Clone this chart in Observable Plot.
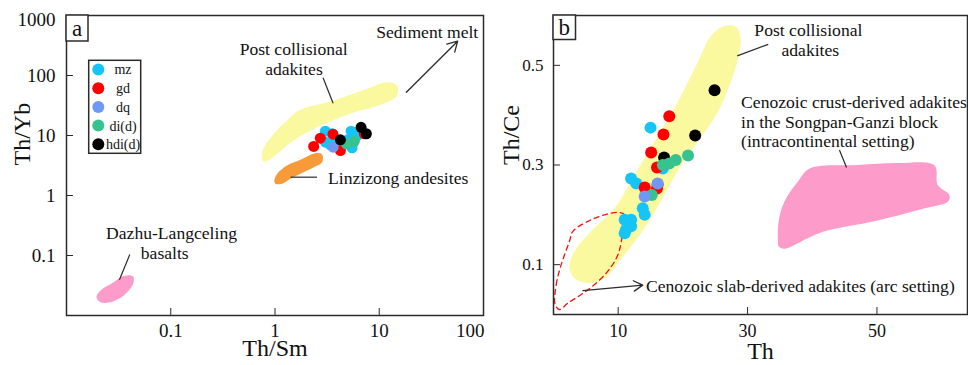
<!DOCTYPE html>
<html>
<head>
<meta charset="utf-8">
<script src="https://cdn.jsdelivr.net/npm/d3@7"></script>
<script src="https://cdn.jsdelivr.net/npm/@observablehq/plot@0.6"></script>
<style>
  html, body { margin: 0; padding: 0; background: #fff; }
  #fig { position: relative; width: 968px; height: 365px; overflow: hidden; font-family: "Liberation Serif", "Times New Roman", serif; }
  #fig > svg, #fig > div { position: absolute; top: 0; }
</style>
</head>
<body>
<div id="fig"></div>
<script>
// Sample groups and their colours
const groups = ["mz", "gd", "dq", "di(d)", "hdi(d)"];
const groupColors = ["#16c4f5", "#ff0000", "#6e98f4", "#36c38f", "#000000"];

// Panel a: Th/Sm (x) vs Th/Yb (y)
const aMz = [[3.04, 11.8], [3.04, 7.73], [3.53, 10.7], [3.4, 7.0], [5.37, 11.8], [5.49, 6.24], [6.12, 10.0], [5.0, 8.5], [3.8, 8.2]];
const aGd = [[2.35, 6.56], [2.72, 9.02], [3.6, 10.5], [4.24, 5.62], [7.19, 10.7]];
const aDq = [[3.61, 6.38]];
const aDi = [[4.84, 7.27], [5.77, 8.0]];
const aHdi = [[4.24, 8.47], [6.69, 13.7], [7.52, 10.7]];

// Panel b: Th (x) vs Th/Ce (y)
const bMz = [[15.0, 0.375], [12.0, 0.273], [12.8, 0.263], [13.8, 0.213], [14.1, 0.2], [11.0, 0.19], [12.0, 0.19], [12.0, 0.177], [11.2, 0.17], [11.0, 0.163], [16.9, 0.293]];
const bGd = [[17.9, 0.398], [17.0, 0.361], [15.1, 0.325], [16.0, 0.295], [14.1, 0.255], [16.1, 0.261], [16.0, 0.253]];
const bDq = [[16.1, 0.263], [14.1, 0.237]];
const bDi = [[20.8, 0.319], [18.9, 0.31], [17.9, 0.303], [16.9, 0.3], [15.2, 0.24]];
const bHdi = [[24.9, 0.45], [21.9, 0.359], [17.1, 0.315]];

// Reference fields, panel a
const postCollisionalA = [[0.774, 3.73], [0.751, 5.27], [0.973, 10.7], [1.306, 17.8], [1.687, 26.1], [3.66, 38.3], [7.64, 60], [11.9, 77.3], [14.8, 68.1], [14.8, 46.4], [11.0, 33.7], [5.28, 23], [2.53, 13.7], [1.51, 8.25], [1.05, 4.96], [0.84, 3.73]];
const linzizongA = [[0.986, 1.78], [1.05, 2.3], [1.306, 3.16], [1.75, 3.94], [2.44, 5.07], [2.83, 4.82], [2.83, 3.59], [2.35, 2.96], [1.75, 2.3], [1.41, 1.9], [1.17, 1.57], [1.01, 1.57]];
const dazhuA = [[0.0194, 0.0202], [0.0212, 0.0261], [0.0284, 0.0359], [0.0354, 0.0459], [0.0436, 0.0447], [0.0436, 0.0337], [0.0354, 0.0216], [0.0264, 0.0167], [0.0212, 0.0167]];

// Reference fields, panel b
const postCollisionalB = [[2.47, 0.093], [3.25, 0.127], [5.83, 0.167], [9.43, 0.213], [12.53, 0.28], [15.62, 0.347], [19.24, 0.427], [22.33, 0.507], [24.39, 0.56], [26.44, 0.579], [28.25, 0.577], [28.92, 0.553], [28.51, 0.513], [27.22, 0.46], [25.42, 0.407], [22.33, 0.347], [19.75, 0.3], [17.16, 0.24], [14.07, 0.173], [10.98, 0.12], [7.89, 0.073], [5.83, 0.063], [3.51, 0.07]];
const crustDerivedB = [[34.7, 0.147], [34.8, 0.187], [35.7, 0.227], [37.8, 0.267], [39.6, 0.293], [47.07, 0.3], [53.25, 0.304], [58.9, 0.299], [59.4, 0.26], [61.2, 0.24], [61.0, 0.227], [57.4, 0.213], [49.6, 0.187], [41.9, 0.167], [39.3, 0.153], [35.7, 0.132], [34.8, 0.137]];
const slabDerivedB = [[0.26, 0.02], [0.42, 0.06], [1.19, 0.1], [2.47, 0.147], [3.0, 0.167], [5.32, 0.187], [7.89, 0.2], [9.96, 0.205], [10.98, 0.2], [10.73, 0.167], [9.96, 0.12], [8.41, 0.087], [6.34, 0.06], [4.28, 0.04], [2.23, 0.023], [0.93, 0.01]];

// Axis ticks
const xTicksA = [0.1, 1, 10, 100];
const yTicksA = [0.1, 1, 10, 100, 1000];
const xTicksB = [10, 30, 50];
const yTicksB = [0.1, 0.3, 0.5];

const toRows = (list) => list.flatMap(([pts, g]) => pts.map(([x, y]) => ({x, y, group: g})));
const toPts = (pts) => pts.map(([x, y]) => ({x, y}));

const rowsA = toRows([[aMz, "mz"], [aGd, "gd"], [aDq, "dq"], [aDi, "di(d)"], [aHdi, "hdi(d)"]]);
const rowsB = toRows([[bMz, "mz"], [bHdi, "hdi(d)"], [bGd, "gd"], [bDi, "di(d)"], [bDq, "dq"]]);

const INK = "#2b2b2b";
const FONT = "Liberation Serif, Times New Roman, serif";
const colorScale = {domain: groups, range: groupColors};

const notesA = [
  {text: "Sediment melt", x: 89.1, y: 527, anchor: "end"},
  {text: "Post collisional", x: 1.51, y: 268, anchor: "middle"},
  {text: "adakites", x: 1.52, y: 126, anchor: "middle"},
  {text: "Linzizong andesites", x: 3.23, y: 1.9, anchor: "start"},
  {text: "Dazhu-Langceling", x: 0.1017, y: 0.23, anchor: "middle"},
  {text: "basalts", x: 0.0876, y: 0.1067, anchor: "middle"}
];
const leadersA = [
  {x1: 2.89, y1: 91.6, x2: 3.61, y2: 34.5},
  {x1: 1.41, y1: 2.02, x2: 2.53, y2: 2.02},
  {x1: 0.0405, y1: 0.104, x2: 0.0322, y2: 0.0394}
];
const arrowsA = [{x1: 18.2, y1: 52.7, x2: 56.5, y2: 373}];

const notesB = [
  {text: "Post collisional", x: 39.4, y: 0.57, anchor: "middle"},
  {text: "adakites", x: 39.7, y: 0.531, anchor: "middle"},
  {text: "Cenozoic crust-derived adakites", x: 29.0, y: 0.425, anchor: "start"},
  {text: "in the Songpan-Ganzi block", x: 29.0, y: 0.385, anchor: "start"},
  {text: "(intracontinental setting)", x: 29.0, y: 0.347, anchor: "start"},
  {text: "Cenozoic slab-derived adakites (arc setting)", x: 14.3, y: 0.057, anchor: "start"}
];
const leadersB = [
  {x1: 28.4, y1: 0.519, x2: 33.2, y2: 0.542},
  {x1: 44.2, y1: 0.33, x2: 45.3, y2: 0.295}
];
const arrowsB = [{x1: 4.55, y1: 0.048, x2: 13.8, y2: 0.059}];

function noteMarks(notes) {
  return ["start", "middle", "end"].map((a) =>
    Plot.text(notes.filter((d) => d.anchor === a), {
      x: "x", y: "y", text: "text", textAnchor: a, fontSize: 17.6, fill: "#111", fontFamily: FONT
    })
  );
}

// tick labels drawn as text along the frame edges
function xLabels(ticks, opts) {
  return Plot.text(ticks, {x: (d) => d, text: (d) => String(d), frameAnchor: "bottom", lineAnchor: "middle", fill: "#111", fontFamily: FONT, ...opts});
}
function yLabels(ticks, opts) {
  return Plot.text(ticks, {y: (d) => d, text: (d) => String(d), frameAnchor: "left", textAnchor: "end", lineAnchor: "middle", fill: "#111", fontFamily: FONT, ...opts});
}

const baseStyle = {fontFamily: FONT, fontSize: "17px", background: "#fff", color: "#111", overflow: "visible"};

const plotA = Plot.plot({
  width: 490, height: 365,
  marginLeft: 66, marginRight: 7, marginTop: 15, marginBottom: 50,
  x: {type: "log", domain: [0.01, 100], label: null},
  y: {type: "log", domain: [0.01, 1000], label: null},
  color: colorScale,
  style: baseStyle,
  marks: [
    Plot.line(toPts(postCollisionalA), {x: "x", y: "y", curve: "catmull-rom-closed", fill: "#fbf9a0", stroke: "none"}),
    Plot.line(toPts(linzizongA), {x: "x", y: "y", curve: "catmull-rom-closed", fill: "#f79a3a", stroke: "none"}),
    Plot.line(toPts(dazhuA), {x: "x", y: "y", curve: "catmull-rom-closed", fill: "#fd9bcb", stroke: "none"}),
    Plot.link(leadersA, {x1: "x1", y1: "y1", x2: "x2", y2: "y2", stroke: INK, strokeWidth: 1.2}),
    Plot.arrow(arrowsA, {x1: "x1", y1: "y1", x2: "x2", y2: "y2", stroke: INK, strokeWidth: 1.3, headLength: 13}),
    Plot.dot(rowsA, {x: "x", y: "y", fill: "group", r: 5.5}),
    ...noteMarks(notesA),
    Plot.frame({stroke: INK, strokeWidth: 1.5}),
    Plot.axisX(xTicksA.slice(0, 3), {tickSize: -7, tickFormat: () => "", stroke: INK, label: null}),
    Plot.axisY(yTicksA.slice(0, 4), {tickSize: -7, tickFormat: () => "", stroke: INK, label: null}),
    xLabels(xTicksA.slice(0, 3), {dy: 15.5, fontSize: 19}),
    xLabels(xTicksA.slice(3), {dy: 15.5, fontSize: 19, textAnchor: "end", dx: 1}),
    yLabels(yTicksA.slice(0, 4), {dx: -11, fontSize: 19}),
    yLabels(yTicksA.slice(4), {dx: -11, dy: 4.5, fontSize: 19}),
    Plot.text(["Th/Sm"], {text: (d) => d, frameAnchor: "bottom", dy: 40, fontSize: 24, fill: "#111"}),
    Plot.text(["Th/Yb"], {text: (d) => d, frameAnchor: "left", dx: -44, rotate: -90, fontSize: 24, fill: "#111"})
  ]
});

const plotB = Plot.plot({
  width: 478, height: 365,
  marginLeft: 63, marginRight: 1, marginTop: 15, marginBottom: 51,
  x: {domain: [0, 64], label: null},
  y: {domain: [0, 0.6], label: null},
  color: colorScale,
  style: baseStyle,
  marks: [
    Plot.line(toPts(postCollisionalB), {x: "x", y: "y", curve: "catmull-rom-closed", fill: "#fbf9a0", stroke: "none"}),
    Plot.line(toPts(crustDerivedB), {x: "x", y: "y", curve: "catmull-rom-closed", fill: "#fd9bcb", stroke: "none"}),
    Plot.line(toPts(slabDerivedB), {x: "x", y: "y", curve: "catmull-rom-closed", fill: "none", stroke: "#f01010", strokeWidth: 1.3, strokeDasharray: "5,4"}),
    Plot.link(leadersB, {x1: "x1", y1: "y1", x2: "x2", y2: "y2", stroke: INK, strokeWidth: 1.2}),
    Plot.arrow(arrowsB, {x1: "x1", y1: "y1", x2: "x2", y2: "y2", stroke: INK, strokeWidth: 1.3, headLength: 12}),
    Plot.dot(rowsB, {x: "x", y: "y", fill: "group", r: 6}),
    ...noteMarks(notesB),
    Plot.frame({stroke: INK, strokeWidth: 1.5}),
    Plot.axisX(xTicksB, {tickSize: -7, tickFormat: () => "", stroke: INK, label: null}),
    Plot.axisY(yTicksB, {tickSize: -7, tickFormat: () => "", stroke: INK, label: null}),
    xLabels(xTicksB, {dy: 17, fontSize: 18}),
    yLabels(yTicksB, {dx: -10, fontSize: 17}),
    Plot.text(["Th"], {text: (d) => d, frameAnchor: "bottom", dy: 44, fontSize: 24, fill: "#111"}),
    Plot.text(["Th/Ce"], {text: (d) => d, frameAnchor: "left", dx: -42, rotate: -90, fontSize: 24, fill: "#111"})
  ]
});

const fig = document.getElementById("fig");
plotA.style.left = "0px";
plotB.style.left = "490px";
fig.append(plotA, plotB);

// Panel letters and the sample legend
const overlay = d3.select(fig).append("svg")
  .attr("width", 968).attr("height", 365)
  .style("left", "0px").style("pointer-events", "none")
  .style("font-family", FONT);

[["a", 66, 15, 22, 26], ["b", 553, 15, 22.5, 24.5]].forEach(([letter, x, y, w, h]) => {
  overlay.append("rect").attr("x", x).attr("y", y).attr("width", w).attr("height", h)
    .attr("fill", "#fff").attr("stroke", INK).attr("stroke-width", 1.5);
  overlay.append("text").attr("x", x + w / 2).attr("y", y + h / 2).attr("dy", "0.35em")
    .attr("text-anchor", "middle").attr("font-size", 23).attr("fill", "#111").text(letter);
});

const legend = overlay.append("g");
legend.append("rect").attr("x", 88.7).attr("y", 60.3).attr("width", 52).attr("height", 93)
  .attr("fill", "#fff").attr("stroke", INK).attr("stroke-width", 1.5);
groups.forEach((g, i) => {
  const cy = 69.5 + i * 18.7;
  legend.append("circle").attr("cx", 98.3).attr("cy", cy).attr("r", 6).attr("fill", groupColors[i]);
  legend.append("text").attr("x", 123).attr("y", cy).attr("dy", "0.35em")
    .attr("text-anchor", "middle").attr("font-size", 14).attr("fill", "#111").text(g);
});
</script>
</body>
</html>
